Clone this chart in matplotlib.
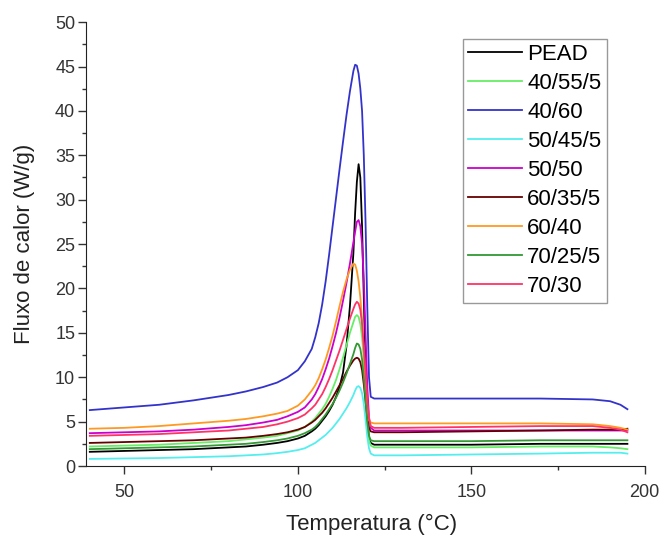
import matplotlib
matplotlib.use("Agg")
import matplotlib.pyplot as plt
from matplotlib.ticker import MultipleLocator

plt.rcParams['font.family'] = ['Liberation Sans', 'DejaVu Sans']

# Temperatura (°C)
temp = [40, 50, 60, 70, 80, 85, 90, 94, 97, 100, 102, 104, 105, 106, 107, 108, 109, 110, 111, 112,
        113, 114, 115, 116, 116.5, 117, 117.5, 118, 118.5, 119, 119.5, 120, 120.5, 121, 122,
        130, 150, 170, 185, 190, 193, 195]

# Fluxo de calor (W/g) de cada amostra
pead = [1.6, 1.7, 1.8, 1.9, 2.1, 2.2, 2.4, 2.6, 2.8, 3.1, 3.4, 3.9, 4.2, 4.6, 5.1, 5.6, 6.2, 6.9, 7.8, 8.9,
        10.5, 13.5, 18.0, 24.0, 28.5, 32.0, 34.0, 32.5, 27.0, 19.0, 11.0, 5.5, 3.2, 2.6, 2.4,
        2.4, 2.4, 2.5, 2.5, 2.5, 2.5, 2.5]
s40_55_5 = [2.2, 2.3, 2.4, 2.6, 2.8, 3.0, 3.2, 3.4, 3.7, 4.0, 4.4, 5.0, 5.4, 5.9, 6.4, 7.0, 7.8, 8.7, 9.7, 10.9,
            12.2, 13.6, 15.0, 16.2, 16.8, 17.0, 16.8, 16.0, 14.5, 12.0, 8.5, 5.0, 2.9, 2.3, 2.1,
            2.1, 2.1, 2.2, 2.2, 2.1, 2.0, 1.9]
s40_60 = [6.3, 6.6, 6.9, 7.4, 8.0, 8.4, 8.9, 9.4, 10.0, 10.8, 11.8, 13.2, 14.5, 16.1, 18.2, 20.8, 23.8, 27.0, 30.2, 33.4,
          36.5, 39.5, 42.2, 44.5, 45.2, 45.1, 44.2, 42.5, 40.0, 35.0, 27.5, 18.0, 10.0, 7.8, 7.6,
          7.6, 7.6, 7.6, 7.5, 7.3, 6.9, 6.4]
s50_45_5 = [0.8, 0.85, 0.9, 1.0, 1.1, 1.2, 1.3, 1.45, 1.6, 1.8, 2.0, 2.4, 2.6, 2.9, 3.2, 3.5, 3.9, 4.3, 4.8, 5.3,
            5.9, 6.5, 7.2, 8.0, 8.5, 8.9, 9.0, 8.8, 8.2, 7.0, 5.2, 3.3, 2.0, 1.4, 1.2,
            1.2, 1.3, 1.4, 1.5, 1.5, 1.5, 1.4]
s50_50 = [3.7, 3.8, 3.9, 4.1, 4.4, 4.6, 4.9, 5.2, 5.6, 6.1, 6.6, 7.5, 8.1, 8.9, 9.8, 10.9, 12.1, 13.5, 15.0, 16.7,
          18.6, 20.6, 22.8, 25.2, 26.4, 27.5, 27.7, 27.0, 25.0, 21.0, 15.0, 9.0, 5.5, 4.3, 4.0,
          4.0, 4.0, 4.0, 4.0, 4.0, 4.0, 4.0]
s60_35_5 = [2.6, 2.7, 2.8, 2.9, 3.1, 3.2, 3.4, 3.6, 3.8, 4.1, 4.4, 4.9, 5.2, 5.6, 6.0, 6.5, 7.1, 7.7, 8.4, 9.1,
            9.8, 10.6, 11.3, 11.9, 12.1, 12.2, 12.1, 11.7, 10.8, 9.2, 7.3, 5.5, 4.3, 3.9, 3.8,
            3.8, 3.9, 4.0, 4.1, 4.1, 4.1, 4.2]
s60_40 = [4.2, 4.3, 4.5, 4.8, 5.1, 5.3, 5.6, 5.9, 6.2, 6.8, 7.5, 8.5, 9.1, 9.9, 10.9, 12.0, 13.3, 14.7, 16.3, 18.0,
          19.6, 21.0, 22.1, 22.8, 22.7, 22.0, 20.8, 19.0, 16.5, 13.0, 9.5, 6.5, 5.2, 4.9, 4.8,
          4.8, 4.8, 4.8, 4.7, 4.5, 4.3, 4.1]
s70_25_5 = [1.9, 2.0, 2.1, 2.2, 2.4, 2.5, 2.7, 2.9, 3.1, 3.4, 3.7, 4.1, 4.4, 4.8, 5.3, 5.8, 6.4, 7.0, 7.7, 8.5,
            9.4, 10.4, 11.5, 12.6, 13.3, 13.8, 13.7, 13.2, 12.0, 10.0, 7.5, 5.0, 3.4, 2.9, 2.8,
            2.8, 2.8, 2.9, 2.9, 2.9, 2.9, 2.9]
s70_30 = [3.4, 3.5, 3.6, 3.8, 4.0, 4.2, 4.4, 4.7, 5.0, 5.4, 5.8, 6.5, 6.9, 7.5, 8.1, 8.9, 9.8, 10.8, 11.9, 13.0,
          14.2, 15.4, 16.6, 17.7, 18.2, 18.5, 18.3, 17.6, 16.0, 13.5, 10.5, 7.5, 5.3, 4.5, 4.3,
          4.3, 4.4, 4.5, 4.5, 4.3, 4.1, 3.8]

nomes = ['PEAD', '40/55/5', '40/60', '50/45/5', '50/50', '60/35/5', '60/40', '70/25/5', '70/30']
series = [pead, s40_55_5, s40_60, s50_45_5, s50_50, s60_35_5, s60_40, s70_25_5, s70_30]
cores = ['#000000', '#66EE66', '#3333CC', '#55EEEE', '#CC00CC', '#660000', '#FF9922', '#339933', '#FF3366']

fig = plt.figure(figsize=(6.64, 5.40), dpi=100)
ax = fig.add_axes([0.130, 0.137, 0.841, 0.822])

for nome, y, cor in zip(nomes, series, cores):
    ax.plot(temp, y, color=cor, lw=1.3, label=nome)

ax.set_xlim(39, 200)
ax.set_ylim(0, 50)
ax.xaxis.set_major_locator(MultipleLocator(50))
ax.xaxis.set_minor_locator(MultipleLocator(25))
ax.yaxis.set_major_locator(MultipleLocator(5))
ax.yaxis.set_minor_locator(MultipleLocator(2.5))
ax.tick_params(which='major', direction='out', length=6, width=1, labelsize=13, colors='#333333')
ax.tick_params(which='minor', direction='out', length=3, width=1, colors='#333333')
ax.tick_params(axis='x', which='major', pad=7)
ax.tick_params(axis='y', which='major', pad=2)
ax.spines['top'].set_visible(False)
ax.spines['right'].set_visible(False)
ax.spines['left'].set_color('#222222')
ax.spines['bottom'].set_color('#222222')

ax.set_xlabel('Temperatura (°C)', fontsize=16, color='#222222')
ax.set_ylabel('Fluxo de calor (W/g)', fontsize=16, color='#222222')
ax.xaxis.set_label_coords(0.51, -0.108)
ax.yaxis.set_label_coords(-0.092, 0.5)

leg = ax.legend(loc='upper left', bbox_to_anchor=(0.674, 0.963), fontsize=16,
                frameon=True, fancybox=False, edgecolor='#999999', framealpha=1,
                handlelength=2.4, handletextpad=0.25, labelspacing=0.36,
                borderpad=0.25, borderaxespad=0)
leg.get_frame().set_linewidth(1.0)

fig.savefig('out.png', dpi=100)
